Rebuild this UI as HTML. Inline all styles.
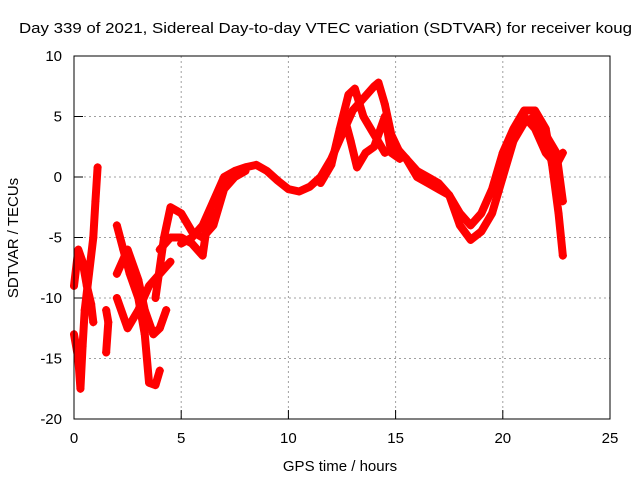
<!DOCTYPE html>
<html><head><meta charset="utf-8"><style>
body{margin:0;background:#fff;}
svg text{font-family:"Liberation Sans",sans-serif;font-size:15px;fill:#000;}
</style></head><body>
<svg id="chart" width="640" height="480" xmlns="http://www.w3.org/2000/svg">
<rect width="640" height="480" fill="#fff"/>
<text x="19" y="33" style="font-size:15px" textLength="613" lengthAdjust="spacingAndGlyphs">Day 339 of 2021, Sidereal Day-to-day VTEC variation (SDTVAR) for receiver koug</text>
<g id="grid"></g>
<g id="ticks"></g>
<g id="series"></g>
<rect x="74" y="56" width="536" height="363" fill="none" stroke="#000" stroke-width="1"/>
<text x="340" y="471" text-anchor="middle">GPS time / hours</text>
<text transform="translate(18,238) rotate(-90)" text-anchor="middle">SDTVAR / TECUs</text>
</svg>
<script>
const xTicks=[0,5,10,15,20,25];
const yTicks=[-20,-15,-10,-5,0,5,10];
const trackA=[[5,-5.5],[5.5,-5],[6,-4],[6.5,-2],[7,0],[7.5,0.5],[8,0.8],[8.5,1],[9,0.5],[9.5,-0.3],[10,-1],[10.5,-1.2],[11,-0.8],[11.5,0],[12,1.5],[12.5,3.5],[13,5.5],[13.5,6.5],[14,7.5],[14.2,7.8],[14.5,6],[14.8,3.5],[15.2,2],[15.5,1.5],[16,0],[16.5,-0.5],[17,-1],[17.5,-1.5],[18,-3],[18.5,-4],[19,-3],[19.5,-1],[20,2],[20.5,4],[21,5.5],[21.5,5.5],[22,4],[22.3,1],[22.6,-3],[22.8,-6.5]];
const trackB=[[11.5,-0.5],[12,1],[12.4,4],[12.8,6.8],[13.1,7.3],[13.5,5],[14,3.5],[14.5,2],[15,2.5],[15.5,1.5],[16,0.5],[16.5,0],[17,-0.5],[17.5,-1.5],[18,-4],[18.5,-5.2],[19,-4.5],[19.5,-3],[20,0],[20.5,3],[21,5],[21.5,4],[22,2],[22.5,1],[22.8,2]];
const trackC=[[12.6,5],[12.9,3],[13.2,0.8],[13.6,2],[14,2.5],[14.5,5],[14.8,2],[15.2,1.5]];
const trackD=[[20.5,3],[21,4.5],[21.5,5],[22,3.5],[22.5,2],[22.8,-2]];
const trackE=[[0,-13],[0.2,-15],[0.3,-17.5],[0.4,-14],[0.5,-11],[0.7,-8],[0.9,-5],[1,-2],[1.1,0.8]];
const trackF=[[0,-9],[0.2,-6],[0.4,-7],[0.6,-9],[0.8,-10.5],[0.9,-12]];
const trackG=[[1.5,-14.5],[1.6,-12],[1.5,-11]];
const trackH=[[2,-4],[2.3,-6],[2.6,-8],[3,-10],[3.3,-13],[3.5,-17],[3.8,-17.2],[4,-16]];
const trackI=[[2,-10],[2.5,-12.5],[3,-11],[3.5,-9],[4,-8],[4.5,-7]];
const trackJ=[[2,-8],[2.5,-6],[3,-8.5],[3.3,-11],[3.7,-13],[4,-12.5],[4.3,-11]];
const trackK=[[3.8,-10],[4.2,-5],[4.5,-2.5],[5,-3],[5.5,-4.5],[6,-5],[6.5,-4],[7,-1],[7.5,0],[8,0.5]];
const trackL=[[4,-6],[4.5,-5],[5,-5],[5.5,-5.5],[6,-6.5],[6.2,-4],[6.5,-3]];
const tracks=[trackA,trackB,trackC,trackD,trackE,trackF,trackG,trackH,trackI,trackJ,trackK,trackL];
const NS="http://www.w3.org/2000/svg";
const X=v=>74+v*536/25, Y=v=>419-(v+20)*363/30;
const grid=document.getElementById('grid'),ticks=document.getElementById('ticks'),ser=document.getElementById('series');
function mk(t,a,p){const e=document.createElementNS(NS,t);for(const k in a)e.setAttribute(k,a[k]);p.appendChild(e);return e;}
xTicks.forEach(t=>{
 if(t>0&&t<25){const g=mk('line',{x1:X(t),x2:X(t),y1:56,y2:419,stroke:'#a0a0a0','stroke-dasharray':'2,3'},grid);
 
 }
 const l=mk('line',{x1:X(t),x2:X(t),y1:419,y2:410,stroke:'#000'},ticks);
 
 
 const tx=mk('text',{x:X(t),y:443,'text-anchor':'middle'},ticks);tx.textContent=t;
 
 
});
yTicks.forEach(t=>{
 if(t>-20&&t<10){const g=mk('line',{x1:74,x2:610,y1:Y(t),y2:Y(t),stroke:'#a0a0a0','stroke-dasharray':'2,3'},grid);
 
 }
 const l=mk('line',{x1:74,x2:83,y1:Y(t),y2:Y(t),stroke:'#000'},ticks);
 
 
 const tx=mk('text',{x:62,y:Y(t)+5,'text-anchor':'end'},ticks);tx.textContent=t;
 
 
});
tracks.forEach((tr,i)=>{
 const pl=mk('polyline',{points:tr.map(p=>X(p[0])+','+Y(p[1])).join(' '),fill:'none',stroke:'#ff0000','stroke-width':8,'stroke-linejoin':'round','stroke-linecap':'round'},ser);
 
 
 tr.forEach(p=>{
  const m=mk('path',{d:`M${X(p[0])-4},${Y(p[1])}h8M${X(p[0])},${Y(p[1])-4}v8`,stroke:'#ff0000','stroke-width':1.5},ser);
  
  
 });
});
</script>
</body></html>
